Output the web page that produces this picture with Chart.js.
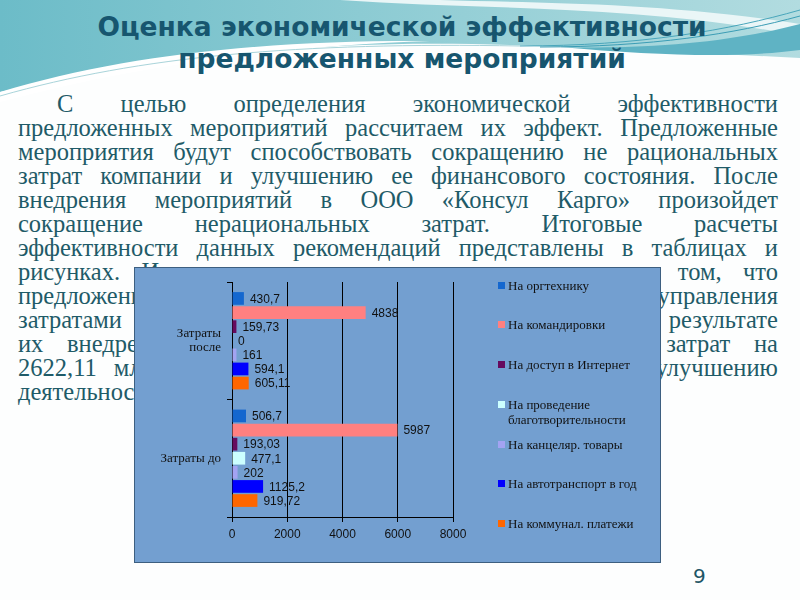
<!DOCTYPE html>
<html>
<head>
<meta charset="utf-8">
<script src="https://cdn.jsdelivr.net/npm/chart.js@4.4.1/dist/chart.umd.min.js"></script>
<style>
html, body { margin: 0; padding: 0; }
body { width: 800px; height: 600px; position: relative; overflow: hidden; background: #fdfefe; }
#bg { position: absolute; left: 0; top: 0; }
#title { position: absolute; left: 0; top: 11px; width: 804px; text-align: center;
  font-family: "DejaVu Sans"; font-weight: bold; font-size: 26.5px; line-height: 32px; color: #17566f; }
#text { position: absolute; left: 18px; top: 92px; width: 760px;
  font-family: "Liberation Serif"; font-size: 24.5px; line-height: 24px; color: #1f5b68; }
#text .ln { display: flex; justify-content: space-between; white-space: nowrap; height: 24px; }
#text .ln.first { padding-left: 39px; }
#text .ln.last { justify-content: flex-start; }
#box { position: absolute; left: 134px; top: 267px; width: 525px; height: 294px;
  background: #739fd0; border: 1px solid #3d5f80; }
#chart { position: absolute; left: 0; top: 0; }
#legend { position: absolute; left: 363px; top: 9.5px; width: 160px;
  font-family: "Liberation Serif"; font-size: 13px; line-height: 15px; color: #111; }
#legend .item { height: 39.8px; display: flex; align-items: flex-start; }
#legend .sw { width: 7px; height: 7px; margin-top: 4px; margin-right: 3px; flex: none; }
#legend .tx { width: 148px; }
#page { position: absolute; left: 693px; top: 564px; font-family: "DejaVu Sans"; font-size: 20px; color: #1f5566; }
</style>
</head>
<body>
<svg id="bg" width="800" height="110">
  <defs>
    <linearGradient id="g1" x1="0" x2="1" y1="0" y2="0">
      <stop offset="0" stop-color="#6cbcc8"/>
      <stop offset="0.45" stop-color="#8ccbd3"/>
      <stop offset="1" stop-color="#b2dce0"/>
    </linearGradient>
  </defs>
  <path d="M0,0 H800 V58 C720,54 640,50 560,47 C420,41 250,38 0,92 Z" fill="url(#g1)"/>
  <path d="M340,0 C480,10 640,4 800,36 L800,24 C660,2 540,3 440,0 Z" fill="#eaf6f7"/>
  <path d="M0,92 C120,56 260,40 430,41 C300,45 150,62 0,102 Z" fill="#ffffff"/>
  <path d="M560,47 C660,50 740,40 800,24 L800,50 C740,58 660,56 560,47 Z" fill="#5fb3c4"/>
  <path d="M520,46 C640,46 730,30 800,10" stroke="#49a6bb" stroke-width="1" fill="none"/>
  <path d="M540,47 C650,47 735,34 800,16" stroke="#3b9db5" stroke-width="1" fill="none"/>
  <path d="M0,96 C140,56 300,42 520,46" stroke="#a9d4da" stroke-width="1" fill="none"/>
</svg>

<div id="title">Оценка экономической эффективности<br>предложенных мероприятий</div>
<div id="text"></div>

<div id="box">
  <canvas id="chart" width="525" height="294"></canvas>
  <div id="legend"></div>
</div>

<div id="page">9</div>

<script>
var categories = [['Затраты', 'после'], 'Затраты до'];

var seriesNames = ['На оргтехнику', 'На командировки', 'На доступ в Интернет',
  'На проведение благотворительности', 'На канцеляр. товары',
  'На автотранспорт в год', 'На коммунал. платежи'];

var seriesColors = ['#1467cf', '#ff8080', '#660a5e', '#ccffff', '#a3a3f2', '#0000ff', '#ff6600'];

// values: [затраты после, затраты до]
var orgtech   = [430.7, 506.7];
var trips     = [4838, 5987];
var internet  = [159.73, 193.03];
var charity   = [0, 477.1];
var office    = [161, 202];
var transport = [594.1, 1125.2];
var utilities = [605.11, 919.72];

var xTicksMax = 8000;
var xTicksStep = 2000;

var paragraph = [
  'С целью определения экономической эффективности',
  'предложенных мероприятий рассчитаем их эффект. Предложенные',
  'мероприятия будут способствовать сокращению не рациональных',
  'затрат компании и улучшению ее финансового состояния. После',
  'внедрения мероприятий в ООО «Консул Карго» произойдет',
  'сокращение нерациональных затрат. Итоговые расчеты',
  'эффективности данных рекомендаций представлены в таблицах и',
  'рисунках. Из проведенного анализа можно сказать о том, что',
  'предложенные мероприятия по оптимизации системы управления',
  'затратами являются эффективными, так как в результате',
  'их внедрения произойдет снижение нерациональных затрат на',
  '2622,11 млн. руб., что в целом будет способствовать улучшению',
  'деятельности компании.'
];

// paragraph, one justified row per line
var textEl = document.getElementById('text');
paragraph.forEach(function (line, i) {
  var row = document.createElement('div');
  row.className = 'ln' + (i === 0 ? ' first' : '') + (i === paragraph.length - 1 ? ' last' : '');
  line.split(' ').forEach(function (w, k) {
    var s = document.createElement('span');
    s.textContent = w;
    if (i === paragraph.length - 1 && k > 0) s.style.marginLeft = '6px';
    row.appendChild(s);
  });
  textEl.appendChild(row);
});

// legend
var legendEl = document.getElementById('legend');
seriesNames.forEach(function (name, i) {
  var it = document.createElement('div');
  it.className = 'item';
  var sw = document.createElement('div');
  sw.className = 'sw';
  sw.style.background = seriesColors[i];
  var tx = document.createElement('div');
  tx.className = 'tx';
  tx.textContent = name;
  it.appendChild(sw);
  it.appendChild(tx);
  legendEl.appendChild(it);
});

var allSeries = [orgtech, trips, internet, charity, office, transport, utilities];

var datasets = allSeries.map(function (vals, i) {
  return {
    label: seriesNames[i],
    data: vals,
    backgroundColor: seriesColors[i],
    borderWidth: 0,
    categoryPercentage: 0.84,
    barPercentage: 0.9
  };
});

var valueLabels = {
  id: 'valueLabels',
  afterDatasetsDraw: function (chart) {
    var ctx = chart.ctx;
    ctx.save();
    ctx.font = '12px "Liberation Sans"';
    ctx.fillStyle = '#111';
    ctx.textAlign = 'left';
    ctx.textBaseline = 'middle';
    chart.data.datasets.forEach(function (ds, i) {
      chart.getDatasetMeta(i).data.forEach(function (bar, j) {
        ctx.fillText(String(ds.data[j]).replace('.', ','), bar.x + 6, bar.y + 1);
      });
    });
    ctx.restore();
  }
};

var ctx = document.getElementById('chart').getContext('2d');
var costChart = new Chart(ctx, {
  type: 'bar',
  data: { labels: categories, datasets: datasets },
  options: {
    indexAxis: 'y',
    responsive: false,
    animation: false,
    layout: { padding: { left: 0, right: 207, top: 14, bottom: 0 } },
    plugins: { legend: { display: false }, tooltip: { enabled: false } },
    scales: {
      x: {
        min: 0,
        max: xTicksMax,
        afterFit: function (s) { s.height = 45; },
        ticks: {
          stepSize: xTicksStep, color: '#111', font: { family: 'Liberation Sans', size: 12 }, padding: 5,
          callback: function (v) { return String(v); }
        },
        grid: { color: '#000', lineWidth: 1, drawTicks: true, tickLength: 5 },
        border: { display: true, color: '#000' }
      },
      y: {
        afterFit: function (s) { s.width = 97; },
        ticks: { color: '#111', font: { family: 'Liberation Serif', size: 13, lineHeight: 1.1 }, padding: 6 },
        grid: { drawOnChartArea: false, offset: true, color: '#000', tickLength: 5 },
        border: { display: true, color: '#000' }
      }
    }
  },
  plugins: [valueLabels]
});
</script>
</body>
</html>
